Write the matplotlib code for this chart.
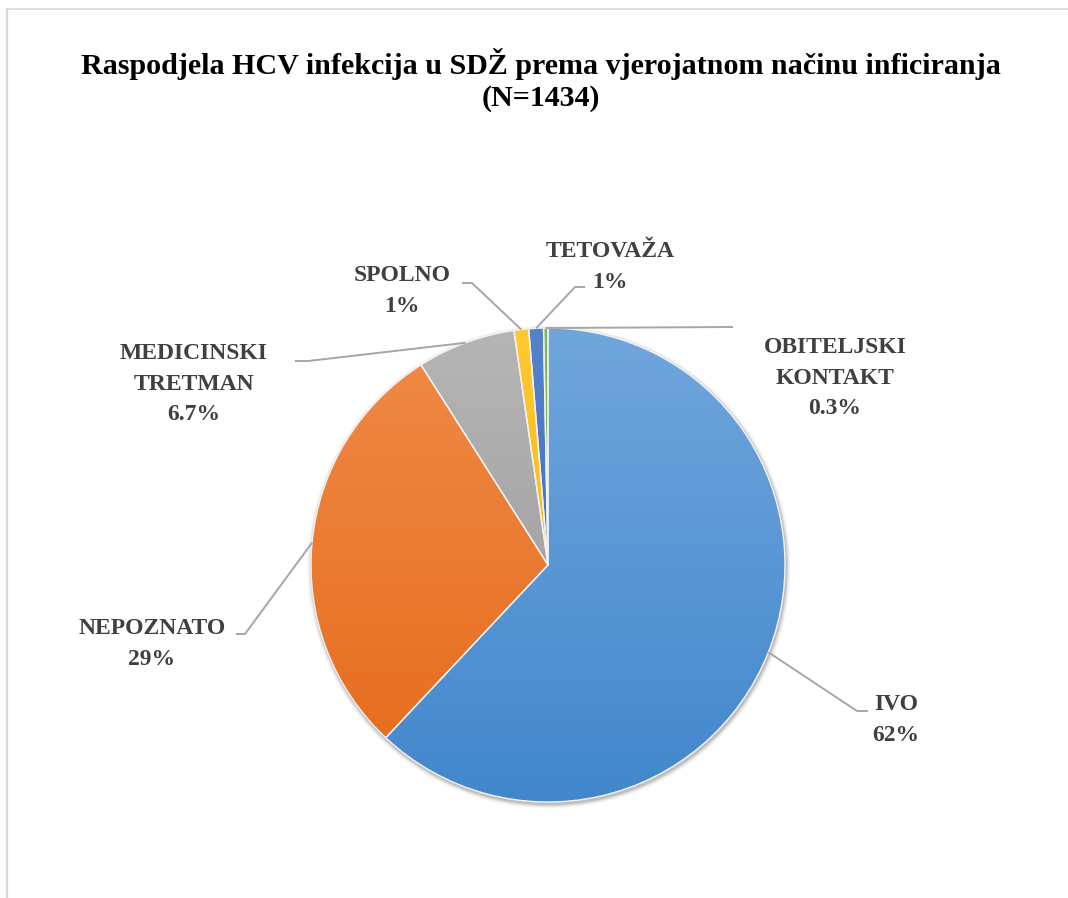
import matplotlib
matplotlib.use("Agg")
import matplotlib.pyplot as plt
import numpy as np
from matplotlib.colors import to_rgb
from matplotlib.patches import Circle

# ---- data ----
categories = ["IVO", "NEPOZNATO", "MEDICINSKI\nTRETMAN", "SPOLNO", "TETOVAŽA", "OBITELJSKI\nKONTAKT"]
shares = [62, 29, 6.7, 1, 1, 0.3]
pct_labels = ["62%", "29%", "6.7%", "1%", "1%", "0.3%"]
title = "Raspodjela HCV infekcija u SDŽ prema vjerojatnom načinu inficiranja\n(N=1434)"

top_colors = ["#70a6dc", "#f08b48", "#b5b5b5", "#ffc933", "#5582cc", "#80b95a"]
bottom_colors = ["#4287cc", "#e56a1a", "#979797", "#f0b000", "#3a64b0", "#5e9a3a"]

# ---- layout (pixel coordinates, y measured from top) ----
W, H = 1068, 898
cx, cy, R = 548, 565, 237
label_pos = [(896, 720), (152, 644), (194, 384), (402, 291), (610, 267), (835, 378)]
elbows = [[(857, 711), (868, 711)],
          [(245, 634), (236, 634)],
          [(308, 361), (295, 361)],
          [(472, 283), (462, 283)],
          [(575, 287), (585, 287)],
          [(733, 327)]]

plt.rcParams["font.family"] = ["Liberation Serif", "DejaVu Serif"]

fig = plt.figure(figsize=(W / 100, H / 100), dpi=100)
ax = fig.add_axes([0, 0, 1, 1])
ax.set_xlim(0, W)
ax.set_ylim(0, H)
ax.axis("off")

def Y(y):
    return H - y

# soft shadow
for i, a in enumerate([0.10, 0.07, 0.05, 0.03, 0.015]):
    ax.add_patch(Circle((cx + 1, Y(cy) - 2), R + 1 + i, color="#000000", alpha=a, lw=0, zorder=1))
ax.add_patch(Circle((cx, Y(cy)), R, color="white", lw=0, zorder=1.5))

wedges, _ = ax.pie(shares, startangle=90, counterclock=False, center=(cx, Y(cy)),
                   radius=R, frame=True,
                   wedgeprops=dict(edgecolor="#f2f2f2", linewidth=1.0))
ax.set_xlim(0, W)
ax.set_ylim(0, H)
ax.set_aspect("equal")
ax.axis("off")

n = 256
for w, ct, cb in zip(wedges, top_colors, bottom_colors):
    w.set_zorder(3)
    w.set_facecolor("none")
    t = np.array(to_rgb(ct)); b = np.array(to_rgb(cb))
    f = np.linspace(0, 1, n)[:, None]
    grad = (t * (1 - f) + b * f)[:, None, :]
    im = ax.imshow(grad, extent=(cx - R, cx + R, Y(cy) - R, Y(cy) + R), origin="upper",
                   aspect="auto", zorder=2, interpolation="bilinear")
    im.set_clip_path(w)
ax.set_xlim(0, W)
ax.set_ylim(0, H)

# leader lines and labels
total = sum(shares)
start = 90.0
for i, (s, lab, pct) in enumerate(zip(shares, categories, pct_labels)):
    ang = np.deg2rad(start - 360 * s / total / 2)
    start -= 360 * s / total
    ax0 = cx + R * np.cos(ang)
    ay0 = cy - R * np.sin(ang)
    pts = [(ax0, ay0)] + elbows[i]
    xs = [p[0] for p in pts]
    ys = [Y(p[1]) for p in pts]
    ax.plot(xs, ys, color="#a6a6a6", lw=1.4, zorder=4, solid_capstyle="butt")
    lx, ly = label_pos[i]
    ax.text(lx, Y(ly), lab + "\n" + pct, ha="center", va="center", multialignment="center",
            fontsize=17, fontweight="bold", color="#404040", linespacing=1.62, zorder=5)

ax.text(541, Y(80), title, ha="center", va="center", multialignment="center",
        fontsize=21.6, fontweight="bold", color="black", linespacing=1.2)

# chart area border (top and left visible)
ax.plot([7, W], [Y(9), Y(9)], color="#d9d9d9", lw=1.2, zorder=0)
ax.plot([7, 7], [Y(9), 0], color="#d9d9d9", lw=1.6, zorder=0)

fig.savefig("out.png", dpi=100)
